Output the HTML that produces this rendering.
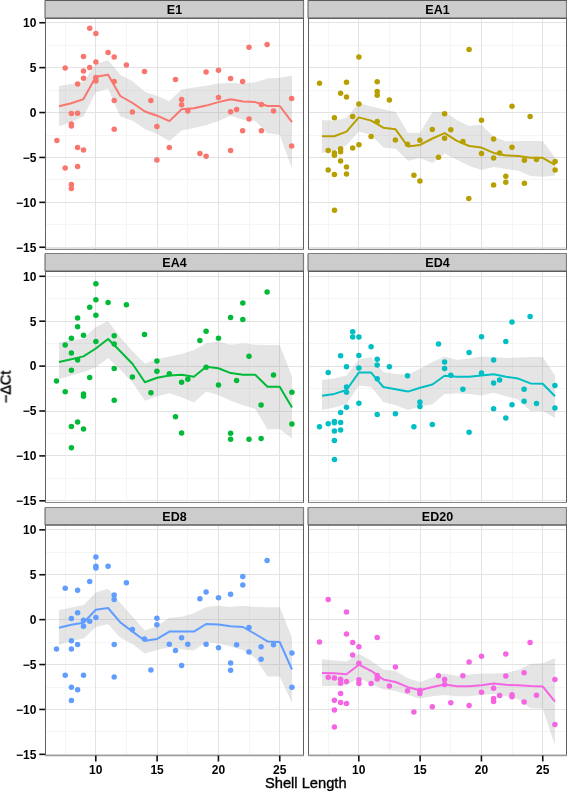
<!DOCTYPE html><html><head><meta charset="utf-8"><style>html,body{margin:0;padding:0;background:#fff;}svg{display:block} text{will-change:transform}</style></head><body>
<svg width="567" height="792" viewBox="0 0 567 792">
<rect width="567" height="792" fill="#fff"/>
<clipPath id="c00"><rect x="45.5" y="18.2" width="258" height="231.10"/></clipPath>
<g><line x1="65.50" y1="18.2" x2="65.50" y2="249.3" stroke="#f5f5f5" stroke-width="1"/><line x1="126.50" y1="18.2" x2="126.50" y2="249.3" stroke="#f5f5f5" stroke-width="1"/><line x1="187.50" y1="18.2" x2="187.50" y2="249.3" stroke="#f5f5f5" stroke-width="1"/><line x1="249.50" y1="18.2" x2="249.50" y2="249.3" stroke="#f5f5f5" stroke-width="1"/><line x1="45.5" y1="224.50" x2="303.5" y2="224.50" stroke="#f5f5f5" stroke-width="1"/><line x1="45.5" y1="179.50" x2="303.5" y2="179.50" stroke="#f5f5f5" stroke-width="1"/><line x1="45.5" y1="135.50" x2="303.5" y2="135.50" stroke="#f5f5f5" stroke-width="1"/><line x1="45.5" y1="90.50" x2="303.5" y2="90.50" stroke="#f5f5f5" stroke-width="1"/><line x1="45.5" y1="45.50" x2="303.5" y2="45.50" stroke="#f5f5f5" stroke-width="1"/><line x1="95.50" y1="18.2" x2="95.50" y2="249.3" stroke="#e3e3e3" stroke-width="1"/><line x1="157.50" y1="18.2" x2="157.50" y2="249.3" stroke="#e3e3e3" stroke-width="1"/><line x1="218.50" y1="18.2" x2="218.50" y2="249.3" stroke="#e3e3e3" stroke-width="1"/><line x1="279.50" y1="18.2" x2="279.50" y2="249.3" stroke="#e3e3e3" stroke-width="1"/><line x1="45.5" y1="247.50" x2="303.5" y2="247.50" stroke="#e3e3e3" stroke-width="1"/><line x1="45.5" y1="202.50" x2="303.5" y2="202.50" stroke="#e3e3e3" stroke-width="1"/><line x1="45.5" y1="157.50" x2="303.5" y2="157.50" stroke="#e3e3e3" stroke-width="1"/><line x1="45.5" y1="112.50" x2="303.5" y2="112.50" stroke="#e3e3e3" stroke-width="1"/><line x1="45.5" y1="67.50" x2="303.5" y2="67.50" stroke="#e3e3e3" stroke-width="1"/><line x1="45.5" y1="22.50" x2="303.5" y2="22.50" stroke="#e3e3e3" stroke-width="1"/></g>
<g clip-path="url(#c00)">
<polygon points="59.0,86.0 71.3,84.0 83.5,81.7 95.8,64.1 108.1,60.2 120.3,74.8 132.6,81.2 144.9,91.7 157.1,96.0 169.4,100.9 181.6,89.5 193.9,87.5 206.2,85.8 218.4,83.6 230.7,83.1 243.0,83.6 255.2,82.3 267.5,78.5 279.7,77.7 292.0,75.8 292.0,168.6 279.7,134.7 267.5,133.3 255.2,121.1 243.0,119.8 230.7,115.7 218.4,121.1 206.2,125.2 193.9,127.9 181.6,130.5 169.4,141.0 157.1,134.1 144.9,129.1 132.6,120.7 120.3,116.4 108.1,88.8 95.8,92.3 83.5,116.3 71.3,122.0 59.0,126.2" fill="#999999" fill-opacity="0.25"/>
<circle cx="89.7" cy="28.3" r="2.75" fill="#F8766D"/>
<circle cx="95.9" cy="33.4" r="2.75" fill="#F8766D"/>
<circle cx="108.1" cy="52.4" r="2.75" fill="#F8766D"/>
<circle cx="114.2" cy="57.0" r="2.75" fill="#F8766D"/>
<circle cx="83.5" cy="56.5" r="2.75" fill="#F8766D"/>
<circle cx="95.9" cy="62.0" r="2.75" fill="#F8766D"/>
<circle cx="65.2" cy="68.0" r="2.75" fill="#F8766D"/>
<circle cx="89.7" cy="67.5" r="2.75" fill="#F8766D"/>
<circle cx="83.5" cy="71.0" r="2.75" fill="#F8766D"/>
<circle cx="126.4" cy="65.0" r="2.75" fill="#F8766D"/>
<circle cx="144.5" cy="71.4" r="2.75" fill="#F8766D"/>
<circle cx="83.5" cy="78.3" r="2.75" fill="#F8766D"/>
<circle cx="95.9" cy="77.6" r="2.75" fill="#F8766D"/>
<circle cx="95.9" cy="81.1" r="2.75" fill="#F8766D"/>
<circle cx="114.2" cy="81.5" r="2.75" fill="#F8766D"/>
<circle cx="77.6" cy="84.0" r="2.75" fill="#F8766D"/>
<circle cx="175.5" cy="79.6" r="2.75" fill="#F8766D"/>
<circle cx="114.2" cy="100.5" r="2.75" fill="#F8766D"/>
<circle cx="150.9" cy="100.5" r="2.75" fill="#F8766D"/>
<circle cx="71.4" cy="113.6" r="2.75" fill="#F8766D"/>
<circle cx="77.6" cy="113.2" r="2.75" fill="#F8766D"/>
<circle cx="132.4" cy="112.0" r="2.75" fill="#F8766D"/>
<circle cx="71.4" cy="124.0" r="2.75" fill="#F8766D"/>
<circle cx="71.4" cy="126.0" r="2.75" fill="#F8766D"/>
<circle cx="156.9" cy="126.4" r="2.75" fill="#F8766D"/>
<circle cx="114.2" cy="129.2" r="2.75" fill="#F8766D"/>
<circle cx="249.0" cy="47.3" r="2.75" fill="#F8766D"/>
<circle cx="267.1" cy="44.6" r="2.75" fill="#F8766D"/>
<circle cx="206.1" cy="71.9" r="2.75" fill="#F8766D"/>
<circle cx="218.5" cy="70.3" r="2.75" fill="#F8766D"/>
<circle cx="230.6" cy="78.5" r="2.75" fill="#F8766D"/>
<circle cx="242.6" cy="81.5" r="2.75" fill="#F8766D"/>
<circle cx="181.6" cy="99.4" r="2.75" fill="#F8766D"/>
<circle cx="181.6" cy="104.7" r="2.75" fill="#F8766D"/>
<circle cx="187.8" cy="110.9" r="2.75" fill="#F8766D"/>
<circle cx="218.5" cy="97.6" r="2.75" fill="#F8766D"/>
<circle cx="230.6" cy="111.8" r="2.75" fill="#F8766D"/>
<circle cx="236.6" cy="109.5" r="2.75" fill="#F8766D"/>
<circle cx="249.0" cy="118.9" r="2.75" fill="#F8766D"/>
<circle cx="261.4" cy="104.4" r="2.75" fill="#F8766D"/>
<circle cx="273.5" cy="110.9" r="2.75" fill="#F8766D"/>
<circle cx="291.6" cy="98.5" r="2.75" fill="#F8766D"/>
<circle cx="242.6" cy="130.8" r="2.75" fill="#F8766D"/>
<circle cx="261.4" cy="130.8" r="2.75" fill="#F8766D"/>
<circle cx="56.9" cy="140.5" r="2.75" fill="#F8766D"/>
<circle cx="77.6" cy="147.4" r="2.75" fill="#F8766D"/>
<circle cx="83.5" cy="150.1" r="2.75" fill="#F8766D"/>
<circle cx="169.3" cy="147.4" r="2.75" fill="#F8766D"/>
<circle cx="156.9" cy="160.0" r="2.75" fill="#F8766D"/>
<circle cx="65.2" cy="168.0" r="2.75" fill="#F8766D"/>
<circle cx="77.6" cy="166.4" r="2.75" fill="#F8766D"/>
<circle cx="71.4" cy="184.5" r="2.75" fill="#F8766D"/>
<circle cx="71.4" cy="188.6" r="2.75" fill="#F8766D"/>
<circle cx="291.6" cy="146.0" r="2.75" fill="#F8766D"/>
<circle cx="199.9" cy="153.6" r="2.75" fill="#F8766D"/>
<circle cx="206.1" cy="156.3" r="2.75" fill="#F8766D"/>
<circle cx="230.6" cy="150.6" r="2.75" fill="#F8766D"/>
<polyline points="59.0,106.2 71.3,103.3 83.5,99.1 95.8,76.8 108.1,74.7 120.3,96.0 132.6,103.0 144.9,111.5 157.1,115.7 169.4,121.1 181.6,109.3 193.9,108.3 206.2,105.6 218.4,102.1 230.7,99.2 243.0,101.6 255.2,102.1 267.5,106.0 279.7,106.0 292.0,122.1" fill="none" stroke="#F8766D" stroke-width="2" stroke-linejoin="round"/>
</g>
<rect x="44.5" y="0.5" width="259" height="17.70" fill="#cccccc"/>
<path d="M45.5,18.2V249.3 M303.5,18.2V249.3" stroke="#606060" stroke-width="1" fill="none"/>
<path d="M45.1,0.5V18.2 M303.5,0.5V18.2" stroke="#7a7a7a" stroke-width="1.2" fill="none"/>
<path d="M45.0,0.5H304.0" stroke="#5a5a5a" stroke-width="1" fill="none"/>
<path d="M45.0,18.2H304.0" stroke="#5e5e5e" stroke-width="1.4" fill="none"/>
<path d="M45.0,249.3H304.0" stroke="#8a8a8a" stroke-width="1.2" fill="none"/>
<text x="174.50" y="13.90" font-family="Liberation Sans" font-weight="bold" font-size="12.5" text-anchor="middle" fill="#000">E1</text>
<line x1="39.3" y1="247.25" x2="45" y2="247.25" stroke="#111" stroke-width="1.6"/>
<text x="36.4" y="251.55" font-family="Liberation Sans" font-weight="bold" font-size="12" text-anchor="end" fill="#000">−15</text>
<line x1="39.3" y1="202.35" x2="45" y2="202.35" stroke="#111" stroke-width="1.6"/>
<text x="36.4" y="206.65" font-family="Liberation Sans" font-weight="bold" font-size="12" text-anchor="end" fill="#000">−10</text>
<line x1="39.3" y1="157.45" x2="45" y2="157.45" stroke="#111" stroke-width="1.6"/>
<text x="36.4" y="161.75" font-family="Liberation Sans" font-weight="bold" font-size="12" text-anchor="end" fill="#000">−5</text>
<line x1="39.3" y1="112.55" x2="45" y2="112.55" stroke="#111" stroke-width="1.6"/>
<text x="36.4" y="116.85" font-family="Liberation Sans" font-weight="bold" font-size="12" text-anchor="end" fill="#000">0</text>
<line x1="39.3" y1="67.65" x2="45" y2="67.65" stroke="#111" stroke-width="1.6"/>
<text x="36.4" y="71.95" font-family="Liberation Sans" font-weight="bold" font-size="12" text-anchor="end" fill="#000">5</text>
<line x1="39.3" y1="22.75" x2="45" y2="22.75" stroke="#111" stroke-width="1.6"/>
<text x="36.4" y="27.05" font-family="Liberation Sans" font-weight="bold" font-size="12" text-anchor="end" fill="#000">10</text>
<clipPath id="c01"><rect x="308.5" y="18.2" width="258" height="231.10"/></clipPath>
<g><line x1="328.50" y1="18.2" x2="328.50" y2="249.3" stroke="#f5f5f5" stroke-width="1"/><line x1="389.50" y1="18.2" x2="389.50" y2="249.3" stroke="#f5f5f5" stroke-width="1"/><line x1="450.50" y1="18.2" x2="450.50" y2="249.3" stroke="#f5f5f5" stroke-width="1"/><line x1="512.50" y1="18.2" x2="512.50" y2="249.3" stroke="#f5f5f5" stroke-width="1"/><line x1="308.5" y1="224.50" x2="566.5" y2="224.50" stroke="#f5f5f5" stroke-width="1"/><line x1="308.5" y1="179.50" x2="566.5" y2="179.50" stroke="#f5f5f5" stroke-width="1"/><line x1="308.5" y1="135.50" x2="566.5" y2="135.50" stroke="#f5f5f5" stroke-width="1"/><line x1="308.5" y1="90.50" x2="566.5" y2="90.50" stroke="#f5f5f5" stroke-width="1"/><line x1="308.5" y1="45.50" x2="566.5" y2="45.50" stroke="#f5f5f5" stroke-width="1"/><line x1="358.50" y1="18.2" x2="358.50" y2="249.3" stroke="#e3e3e3" stroke-width="1"/><line x1="420.50" y1="18.2" x2="420.50" y2="249.3" stroke="#e3e3e3" stroke-width="1"/><line x1="481.50" y1="18.2" x2="481.50" y2="249.3" stroke="#e3e3e3" stroke-width="1"/><line x1="542.50" y1="18.2" x2="542.50" y2="249.3" stroke="#e3e3e3" stroke-width="1"/><line x1="308.5" y1="247.50" x2="566.5" y2="247.50" stroke="#e3e3e3" stroke-width="1"/><line x1="308.5" y1="202.50" x2="566.5" y2="202.50" stroke="#e3e3e3" stroke-width="1"/><line x1="308.5" y1="157.50" x2="566.5" y2="157.50" stroke="#e3e3e3" stroke-width="1"/><line x1="308.5" y1="112.50" x2="566.5" y2="112.50" stroke="#e3e3e3" stroke-width="1"/><line x1="308.5" y1="67.50" x2="566.5" y2="67.50" stroke="#e3e3e3" stroke-width="1"/><line x1="308.5" y1="22.50" x2="566.5" y2="22.50" stroke="#e3e3e3" stroke-width="1"/></g>
<g clip-path="url(#c01)">
<polygon points="322.0,120.1 334.3,120.8 346.5,117.8 358.8,102.9 371.1,106.4 383.3,109.3 395.6,112.1 407.9,132.7 420.1,132.7 432.4,112.1 444.6,112.1 456.9,120.1 469.2,125.9 481.4,124.7 493.7,136.9 506.0,141.3 518.2,141.0 530.5,141.0 542.7,141.0 555.0,157.5 555.0,175.5 542.7,176.7 530.5,176.1 518.2,170.8 506.0,169.0 493.7,167.1 481.4,170.1 469.2,166.0 456.9,159.8 444.6,153.4 432.4,163.0 420.1,158.0 407.9,160.7 395.6,148.8 383.3,147.6 371.1,135.0 358.8,131.6 346.5,145.3 334.3,151.1 322.0,152.9" fill="#999999" fill-opacity="0.25"/>
<circle cx="358.9" cy="57.0" r="2.75" fill="#B79F00"/>
<circle cx="319.5" cy="83.3" r="2.75" fill="#B79F00"/>
<circle cx="346.5" cy="82.2" r="2.75" fill="#B79F00"/>
<circle cx="377.2" cy="81.7" r="2.75" fill="#B79F00"/>
<circle cx="340.6" cy="93.2" r="2.75" fill="#B79F00"/>
<circle cx="346.5" cy="97.1" r="2.75" fill="#B79F00"/>
<circle cx="377.2" cy="91.4" r="2.75" fill="#B79F00"/>
<circle cx="377.2" cy="95.3" r="2.75" fill="#B79F00"/>
<circle cx="389.4" cy="100.1" r="2.75" fill="#B79F00"/>
<circle cx="358.9" cy="104.0" r="2.75" fill="#B79F00"/>
<circle cx="334.4" cy="117.7" r="2.75" fill="#B79F00"/>
<circle cx="352.7" cy="116.6" r="2.75" fill="#B79F00"/>
<circle cx="377.2" cy="121.6" r="2.75" fill="#B79F00"/>
<circle cx="432.3" cy="129.4" r="2.75" fill="#B79F00"/>
<circle cx="371.1" cy="136.6" r="2.75" fill="#B79F00"/>
<circle cx="395.4" cy="140.1" r="2.75" fill="#B79F00"/>
<circle cx="407.5" cy="144.2" r="2.75" fill="#B79F00"/>
<circle cx="419.9" cy="140.3" r="2.75" fill="#B79F00"/>
<circle cx="328.2" cy="150.4" r="2.75" fill="#B79F00"/>
<circle cx="334.4" cy="152.9" r="2.75" fill="#B79F00"/>
<circle cx="334.4" cy="155.2" r="2.75" fill="#B79F00"/>
<circle cx="340.6" cy="148.8" r="2.75" fill="#B79F00"/>
<circle cx="340.6" cy="151.8" r="2.75" fill="#B79F00"/>
<circle cx="352.7" cy="147.9" r="2.75" fill="#B79F00"/>
<circle cx="358.9" cy="144.7" r="2.75" fill="#B79F00"/>
<circle cx="340.6" cy="160.9" r="2.75" fill="#B79F00"/>
<circle cx="346.5" cy="167.1" r="2.75" fill="#B79F00"/>
<circle cx="328.2" cy="170.1" r="2.75" fill="#B79F00"/>
<circle cx="334.4" cy="174.5" r="2.75" fill="#B79F00"/>
<circle cx="346.5" cy="174.0" r="2.75" fill="#B79F00"/>
<circle cx="413.9" cy="175.2" r="2.75" fill="#B79F00"/>
<circle cx="419.9" cy="180.9" r="2.75" fill="#B79F00"/>
<circle cx="438.5" cy="157.3" r="2.75" fill="#B79F00"/>
<circle cx="469.1" cy="49.6" r="2.75" fill="#B79F00"/>
<circle cx="512.0" cy="106.3" r="2.75" fill="#B79F00"/>
<circle cx="530.1" cy="116.6" r="2.75" fill="#B79F00"/>
<circle cx="444.6" cy="113.8" r="2.75" fill="#B79F00"/>
<circle cx="450.8" cy="129.7" r="2.75" fill="#B79F00"/>
<circle cx="481.5" cy="120.3" r="2.75" fill="#B79F00"/>
<circle cx="444.6" cy="138.2" r="2.75" fill="#B79F00"/>
<circle cx="462.9" cy="141.4" r="2.75" fill="#B79F00"/>
<circle cx="493.6" cy="138.9" r="2.75" fill="#B79F00"/>
<circle cx="512.0" cy="147.2" r="2.75" fill="#B79F00"/>
<circle cx="481.5" cy="153.4" r="2.75" fill="#B79F00"/>
<circle cx="493.6" cy="158.0" r="2.75" fill="#B79F00"/>
<circle cx="499.6" cy="152.9" r="2.75" fill="#B79F00"/>
<circle cx="524.4" cy="160.2" r="2.75" fill="#B79F00"/>
<circle cx="536.5" cy="159.6" r="2.75" fill="#B79F00"/>
<circle cx="555.1" cy="161.4" r="2.75" fill="#B79F00"/>
<circle cx="555.1" cy="169.9" r="2.75" fill="#B79F00"/>
<circle cx="505.8" cy="176.3" r="2.75" fill="#B79F00"/>
<circle cx="505.8" cy="182.3" r="2.75" fill="#B79F00"/>
<circle cx="493.6" cy="185.0" r="2.75" fill="#B79F00"/>
<circle cx="524.4" cy="183.2" r="2.75" fill="#B79F00"/>
<circle cx="334.5" cy="210.3" r="2.75" fill="#B79F00"/>
<circle cx="468.8" cy="198.5" r="2.75" fill="#B79F00"/>
<polyline points="322.0,136.2 334.3,136.2 346.5,131.6 358.8,117.4 371.1,120.6 383.3,127.7 395.6,129.3 407.9,146.5 420.1,144.9 432.4,138.5 444.6,133.2 456.9,140.8 469.2,146.0 481.4,147.6 493.7,152.9 506.0,155.4 518.2,156.0 530.5,157.8 542.7,157.8 555.0,164.9" fill="none" stroke="#B79F00" stroke-width="2" stroke-linejoin="round"/>
</g>
<rect x="307.5" y="0.5" width="259" height="17.70" fill="#cccccc"/>
<path d="M308.5,18.2V249.3 M566.5,18.2V249.3" stroke="#606060" stroke-width="1" fill="none"/>
<path d="M308.1,0.5V18.2 M566.5,0.5V18.2" stroke="#7a7a7a" stroke-width="1.2" fill="none"/>
<path d="M308.0,0.5H567.0" stroke="#5a5a5a" stroke-width="1" fill="none"/>
<path d="M308.0,18.2H567.0" stroke="#5e5e5e" stroke-width="1.4" fill="none"/>
<path d="M308.0,249.3H567.0" stroke="#8a8a8a" stroke-width="1.2" fill="none"/>
<text x="437.50" y="13.90" font-family="Liberation Sans" font-weight="bold" font-size="12.5" text-anchor="middle" fill="#000">EA1</text>
<clipPath id="c10"><rect x="45.5" y="271.3" width="258" height="231.20"/></clipPath>
<g><line x1="65.50" y1="271.3" x2="65.50" y2="502.5" stroke="#f5f5f5" stroke-width="1"/><line x1="126.50" y1="271.3" x2="126.50" y2="502.5" stroke="#f5f5f5" stroke-width="1"/><line x1="187.50" y1="271.3" x2="187.50" y2="502.5" stroke="#f5f5f5" stroke-width="1"/><line x1="249.50" y1="271.3" x2="249.50" y2="502.5" stroke="#f5f5f5" stroke-width="1"/><line x1="45.5" y1="478.50" x2="303.5" y2="478.50" stroke="#f5f5f5" stroke-width="1"/><line x1="45.5" y1="433.50" x2="303.5" y2="433.50" stroke="#f5f5f5" stroke-width="1"/><line x1="45.5" y1="388.50" x2="303.5" y2="388.50" stroke="#f5f5f5" stroke-width="1"/><line x1="45.5" y1="343.50" x2="303.5" y2="343.50" stroke="#f5f5f5" stroke-width="1"/><line x1="45.5" y1="298.50" x2="303.5" y2="298.50" stroke="#f5f5f5" stroke-width="1"/><line x1="95.50" y1="271.3" x2="95.50" y2="502.5" stroke="#e3e3e3" stroke-width="1"/><line x1="157.50" y1="271.3" x2="157.50" y2="502.5" stroke="#e3e3e3" stroke-width="1"/><line x1="218.50" y1="271.3" x2="218.50" y2="502.5" stroke="#e3e3e3" stroke-width="1"/><line x1="279.50" y1="271.3" x2="279.50" y2="502.5" stroke="#e3e3e3" stroke-width="1"/><line x1="45.5" y1="500.50" x2="303.5" y2="500.50" stroke="#e3e3e3" stroke-width="1"/><line x1="45.5" y1="455.50" x2="303.5" y2="455.50" stroke="#e3e3e3" stroke-width="1"/><line x1="45.5" y1="411.50" x2="303.5" y2="411.50" stroke="#e3e3e3" stroke-width="1"/><line x1="45.5" y1="366.50" x2="303.5" y2="366.50" stroke="#e3e3e3" stroke-width="1"/><line x1="45.5" y1="321.50" x2="303.5" y2="321.50" stroke="#e3e3e3" stroke-width="1"/><line x1="45.5" y1="276.50" x2="303.5" y2="276.50" stroke="#e3e3e3" stroke-width="1"/></g>
<g clip-path="url(#c10)">
<polygon points="59.0,342.5 71.3,340.2 83.5,338.6 95.8,327.2 108.1,321.0 120.3,337.5 132.6,351.2 144.9,363.4 157.1,359.3 169.4,356.5 181.6,354.0 193.9,350.1 206.2,343.2 218.4,341.6 230.7,344.8 243.0,343.2 255.2,344.8 267.5,345.0 279.7,345.0 292.0,376.5 292.0,438.6 279.7,429.0 267.5,429.4 255.2,408.8 243.0,405.3 230.7,400.8 218.4,395.0 206.2,391.6 193.9,402.4 181.6,397.3 169.4,393.3 157.1,396.2 144.9,400.8 132.6,382.4 120.3,369.8 108.1,357.9 95.8,367.5 83.5,372.1 71.3,375.5 59.0,379.0" fill="#999999" fill-opacity="0.25"/>
<circle cx="95.9" cy="283.8" r="2.75" fill="#00BA38"/>
<circle cx="95.9" cy="299.7" r="2.75" fill="#00BA38"/>
<circle cx="89.7" cy="307.2" r="2.75" fill="#00BA38"/>
<circle cx="108.1" cy="302.4" r="2.75" fill="#00BA38"/>
<circle cx="126.4" cy="304.7" r="2.75" fill="#00BA38"/>
<circle cx="77.6" cy="318.0" r="2.75" fill="#00BA38"/>
<circle cx="95.9" cy="315.3" r="2.75" fill="#00BA38"/>
<circle cx="77.6" cy="326.7" r="2.75" fill="#00BA38"/>
<circle cx="83.5" cy="335.2" r="2.75" fill="#00BA38"/>
<circle cx="71.4" cy="338.2" r="2.75" fill="#00BA38"/>
<circle cx="65.2" cy="345.1" r="2.75" fill="#00BA38"/>
<circle cx="95.9" cy="341.6" r="2.75" fill="#00BA38"/>
<circle cx="114.2" cy="335.7" r="2.75" fill="#00BA38"/>
<circle cx="114.2" cy="343.9" r="2.75" fill="#00BA38"/>
<circle cx="144.5" cy="334.5" r="2.75" fill="#00BA38"/>
<circle cx="71.4" cy="352.9" r="2.75" fill="#00BA38"/>
<circle cx="77.6" cy="360.0" r="2.75" fill="#00BA38"/>
<circle cx="156.9" cy="360.9" r="2.75" fill="#00BA38"/>
<circle cx="71.4" cy="370.3" r="2.75" fill="#00BA38"/>
<circle cx="114.2" cy="368.4" r="2.75" fill="#00BA38"/>
<circle cx="156.9" cy="371.2" r="2.75" fill="#00BA38"/>
<circle cx="169.3" cy="373.7" r="2.75" fill="#00BA38"/>
<circle cx="89.7" cy="377.6" r="2.75" fill="#00BA38"/>
<circle cx="132.4" cy="376.9" r="2.75" fill="#00BA38"/>
<circle cx="56.5" cy="381.1" r="2.75" fill="#00BA38"/>
<circle cx="65.2" cy="391.8" r="2.75" fill="#00BA38"/>
<circle cx="83.5" cy="393.9" r="2.75" fill="#00BA38"/>
<circle cx="83.5" cy="396.2" r="2.75" fill="#00BA38"/>
<circle cx="114.2" cy="400.3" r="2.75" fill="#00BA38"/>
<circle cx="150.9" cy="392.7" r="2.75" fill="#00BA38"/>
<circle cx="77.6" cy="422.1" r="2.75" fill="#00BA38"/>
<circle cx="71.4" cy="426.4" r="2.75" fill="#00BA38"/>
<circle cx="83.5" cy="429.0" r="2.75" fill="#00BA38"/>
<circle cx="71.4" cy="447.8" r="2.75" fill="#00BA38"/>
<circle cx="175.5" cy="416.8" r="2.75" fill="#00BA38"/>
<circle cx="267.1" cy="292.1" r="2.75" fill="#00BA38"/>
<circle cx="242.8" cy="303.1" r="2.75" fill="#00BA38"/>
<circle cx="230.6" cy="317.5" r="2.75" fill="#00BA38"/>
<circle cx="242.8" cy="319.4" r="2.75" fill="#00BA38"/>
<circle cx="206.1" cy="331.3" r="2.75" fill="#00BA38"/>
<circle cx="199.9" cy="340.5" r="2.75" fill="#00BA38"/>
<circle cx="218.5" cy="338.2" r="2.75" fill="#00BA38"/>
<circle cx="249.0" cy="356.3" r="2.75" fill="#00BA38"/>
<circle cx="206.1" cy="367.3" r="2.75" fill="#00BA38"/>
<circle cx="273.5" cy="374.9" r="2.75" fill="#00BA38"/>
<circle cx="181.6" cy="382.2" r="2.75" fill="#00BA38"/>
<circle cx="187.8" cy="379.2" r="2.75" fill="#00BA38"/>
<circle cx="236.6" cy="380.4" r="2.75" fill="#00BA38"/>
<circle cx="218.5" cy="385.0" r="2.75" fill="#00BA38"/>
<circle cx="291.9" cy="392.3" r="2.75" fill="#00BA38"/>
<circle cx="261.1" cy="404.9" r="2.75" fill="#00BA38"/>
<circle cx="291.9" cy="423.9" r="2.75" fill="#00BA38"/>
<circle cx="181.6" cy="432.9" r="2.75" fill="#00BA38"/>
<circle cx="230.6" cy="433.3" r="2.75" fill="#00BA38"/>
<circle cx="230.6" cy="439.3" r="2.75" fill="#00BA38"/>
<circle cx="249.0" cy="439.3" r="2.75" fill="#00BA38"/>
<circle cx="261.1" cy="438.6" r="2.75" fill="#00BA38"/>
<polyline points="59.0,362.0 71.3,359.3 83.5,356.4 95.8,348.5 108.1,339.0 120.3,351.3 132.6,364.0 144.9,382.3 157.1,377.7 169.4,375.4 181.6,374.8 193.9,376.8 206.2,366.8 218.4,368.2 230.7,373.1 243.0,374.7 255.2,374.7 267.5,386.8 279.7,386.8 292.0,407.6" fill="none" stroke="#00BA38" stroke-width="2" stroke-linejoin="round"/>
</g>
<rect x="44.5" y="253.5" width="259" height="17.80" fill="#cccccc"/>
<path d="M45.5,271.3V502.5 M303.5,271.3V502.5" stroke="#606060" stroke-width="1" fill="none"/>
<path d="M45.1,253.5V271.3 M303.5,253.5V271.3" stroke="#7a7a7a" stroke-width="1.2" fill="none"/>
<path d="M45.0,253.5H304.0" stroke="#808080" stroke-width="1" fill="none"/>
<path d="M45.0,271.3H304.0" stroke="#5e5e5e" stroke-width="1.4" fill="none"/>
<path d="M45.0,502.5H304.0" stroke="#858585" stroke-width="1.2" fill="none"/>
<text x="174.50" y="266.90" font-family="Liberation Sans" font-weight="bold" font-size="12.5" text-anchor="middle" fill="#000">EA4</text>
<line x1="39.3" y1="500.80" x2="45" y2="500.80" stroke="#111" stroke-width="1.6"/>
<text x="36.4" y="505.10" font-family="Liberation Sans" font-weight="bold" font-size="12" text-anchor="end" fill="#000">−15</text>
<line x1="39.3" y1="455.90" x2="45" y2="455.90" stroke="#111" stroke-width="1.6"/>
<text x="36.4" y="460.20" font-family="Liberation Sans" font-weight="bold" font-size="12" text-anchor="end" fill="#000">−10</text>
<line x1="39.3" y1="411.00" x2="45" y2="411.00" stroke="#111" stroke-width="1.6"/>
<text x="36.4" y="415.30" font-family="Liberation Sans" font-weight="bold" font-size="12" text-anchor="end" fill="#000">−5</text>
<line x1="39.3" y1="366.10" x2="45" y2="366.10" stroke="#111" stroke-width="1.6"/>
<text x="36.4" y="370.40" font-family="Liberation Sans" font-weight="bold" font-size="12" text-anchor="end" fill="#000">0</text>
<line x1="39.3" y1="321.20" x2="45" y2="321.20" stroke="#111" stroke-width="1.6"/>
<text x="36.4" y="325.50" font-family="Liberation Sans" font-weight="bold" font-size="12" text-anchor="end" fill="#000">5</text>
<line x1="39.3" y1="276.30" x2="45" y2="276.30" stroke="#111" stroke-width="1.6"/>
<text x="36.4" y="280.60" font-family="Liberation Sans" font-weight="bold" font-size="12" text-anchor="end" fill="#000">10</text>
<clipPath id="c11"><rect x="308.5" y="271.3" width="258" height="231.20"/></clipPath>
<g><line x1="328.50" y1="271.3" x2="328.50" y2="502.5" stroke="#f5f5f5" stroke-width="1"/><line x1="389.50" y1="271.3" x2="389.50" y2="502.5" stroke="#f5f5f5" stroke-width="1"/><line x1="450.50" y1="271.3" x2="450.50" y2="502.5" stroke="#f5f5f5" stroke-width="1"/><line x1="512.50" y1="271.3" x2="512.50" y2="502.5" stroke="#f5f5f5" stroke-width="1"/><line x1="308.5" y1="478.50" x2="566.5" y2="478.50" stroke="#f5f5f5" stroke-width="1"/><line x1="308.5" y1="433.50" x2="566.5" y2="433.50" stroke="#f5f5f5" stroke-width="1"/><line x1="308.5" y1="388.50" x2="566.5" y2="388.50" stroke="#f5f5f5" stroke-width="1"/><line x1="308.5" y1="343.50" x2="566.5" y2="343.50" stroke="#f5f5f5" stroke-width="1"/><line x1="308.5" y1="298.50" x2="566.5" y2="298.50" stroke="#f5f5f5" stroke-width="1"/><line x1="358.50" y1="271.3" x2="358.50" y2="502.5" stroke="#e3e3e3" stroke-width="1"/><line x1="420.50" y1="271.3" x2="420.50" y2="502.5" stroke="#e3e3e3" stroke-width="1"/><line x1="481.50" y1="271.3" x2="481.50" y2="502.5" stroke="#e3e3e3" stroke-width="1"/><line x1="542.50" y1="271.3" x2="542.50" y2="502.5" stroke="#e3e3e3" stroke-width="1"/><line x1="308.5" y1="500.50" x2="566.5" y2="500.50" stroke="#e3e3e3" stroke-width="1"/><line x1="308.5" y1="455.50" x2="566.5" y2="455.50" stroke="#e3e3e3" stroke-width="1"/><line x1="308.5" y1="411.50" x2="566.5" y2="411.50" stroke="#e3e3e3" stroke-width="1"/><line x1="308.5" y1="366.50" x2="566.5" y2="366.50" stroke="#e3e3e3" stroke-width="1"/><line x1="308.5" y1="321.50" x2="566.5" y2="321.50" stroke="#e3e3e3" stroke-width="1"/><line x1="308.5" y1="276.50" x2="566.5" y2="276.50" stroke="#e3e3e3" stroke-width="1"/></g>
<g clip-path="url(#c11)">
<polygon points="322.0,380.1 334.3,378.5 346.5,375.5 358.8,359.5 371.1,357.2 383.3,372.1 395.6,373.9 407.9,374.4 420.1,368.7 432.4,362.0 444.6,356.4 456.9,360.0 469.2,358.6 481.4,356.4 493.7,357.1 506.0,358.0 518.2,357.5 530.5,357.1 542.7,357.1 555.0,375.5 555.0,418.0 542.7,411.1 530.5,411.1 518.2,399.6 506.0,396.2 493.7,392.7 481.4,395.5 469.2,393.9 456.9,393.2 444.6,393.9 432.4,404.2 420.1,406.5 407.9,409.9 395.6,405.3 383.3,401.9 371.1,387.0 358.8,385.4 346.5,404.2 334.3,407.6 322.0,409.9" fill="#999999" fill-opacity="0.25"/>
<circle cx="352.7" cy="331.8" r="2.75" fill="#00BFC4"/>
<circle cx="352.7" cy="337.0" r="2.75" fill="#00BFC4"/>
<circle cx="358.9" cy="337.0" r="2.75" fill="#00BFC4"/>
<circle cx="371.1" cy="346.7" r="2.75" fill="#00BFC4"/>
<circle cx="340.6" cy="355.8" r="2.75" fill="#00BFC4"/>
<circle cx="358.9" cy="355.4" r="2.75" fill="#00BFC4"/>
<circle cx="377.2" cy="359.3" r="2.75" fill="#00BFC4"/>
<circle cx="377.2" cy="365.0" r="2.75" fill="#00BFC4"/>
<circle cx="346.5" cy="366.8" r="2.75" fill="#00BFC4"/>
<circle cx="358.9" cy="368.0" r="2.75" fill="#00BFC4"/>
<circle cx="389.4" cy="366.8" r="2.75" fill="#00BFC4"/>
<circle cx="328.2" cy="372.6" r="2.75" fill="#00BFC4"/>
<circle cx="407.5" cy="375.8" r="2.75" fill="#00BFC4"/>
<circle cx="377.2" cy="378.8" r="2.75" fill="#00BFC4"/>
<circle cx="438.5" cy="343.9" r="2.75" fill="#00BFC4"/>
<circle cx="346.5" cy="387.0" r="2.75" fill="#00BFC4"/>
<circle cx="346.5" cy="392.3" r="2.75" fill="#00BFC4"/>
<circle cx="358.9" cy="403.3" r="2.75" fill="#00BFC4"/>
<circle cx="346.5" cy="407.2" r="2.75" fill="#00BFC4"/>
<circle cx="340.6" cy="412.5" r="2.75" fill="#00BFC4"/>
<circle cx="377.2" cy="414.5" r="2.75" fill="#00BFC4"/>
<circle cx="395.4" cy="413.8" r="2.75" fill="#00BFC4"/>
<circle cx="419.9" cy="401.9" r="2.75" fill="#00BFC4"/>
<circle cx="419.9" cy="406.5" r="2.75" fill="#00BFC4"/>
<circle cx="334.4" cy="421.4" r="2.75" fill="#00BFC4"/>
<circle cx="334.4" cy="422.8" r="2.75" fill="#00BFC4"/>
<circle cx="328.2" cy="423.7" r="2.75" fill="#00BFC4"/>
<circle cx="340.6" cy="422.5" r="2.75" fill="#00BFC4"/>
<circle cx="319.5" cy="426.7" r="2.75" fill="#00BFC4"/>
<circle cx="334.4" cy="431.0" r="2.75" fill="#00BFC4"/>
<circle cx="340.6" cy="429.9" r="2.75" fill="#00BFC4"/>
<circle cx="334.4" cy="440.4" r="2.75" fill="#00BFC4"/>
<circle cx="413.9" cy="426.7" r="2.75" fill="#00BFC4"/>
<circle cx="432.3" cy="424.4" r="2.75" fill="#00BFC4"/>
<circle cx="334.5" cy="459.4" r="2.75" fill="#00BFC4"/>
<circle cx="530.1" cy="316.4" r="2.75" fill="#00BFC4"/>
<circle cx="512.0" cy="321.9" r="2.75" fill="#00BFC4"/>
<circle cx="481.5" cy="336.8" r="2.75" fill="#00BFC4"/>
<circle cx="505.8" cy="341.4" r="2.75" fill="#00BFC4"/>
<circle cx="469.1" cy="352.4" r="2.75" fill="#00BFC4"/>
<circle cx="493.6" cy="360.0" r="2.75" fill="#00BFC4"/>
<circle cx="444.6" cy="362.0" r="2.75" fill="#00BFC4"/>
<circle cx="444.6" cy="368.4" r="2.75" fill="#00BFC4"/>
<circle cx="450.8" cy="375.3" r="2.75" fill="#00BFC4"/>
<circle cx="481.5" cy="373.0" r="2.75" fill="#00BFC4"/>
<circle cx="493.6" cy="382.9" r="2.75" fill="#00BFC4"/>
<circle cx="499.6" cy="380.1" r="2.75" fill="#00BFC4"/>
<circle cx="554.9" cy="385.6" r="2.75" fill="#00BFC4"/>
<circle cx="462.9" cy="389.3" r="2.75" fill="#00BFC4"/>
<circle cx="524.1" cy="389.3" r="2.75" fill="#00BFC4"/>
<circle cx="524.1" cy="401.2" r="2.75" fill="#00BFC4"/>
<circle cx="536.5" cy="403.5" r="2.75" fill="#00BFC4"/>
<circle cx="512.0" cy="404.7" r="2.75" fill="#00BFC4"/>
<circle cx="493.6" cy="408.8" r="2.75" fill="#00BFC4"/>
<circle cx="554.9" cy="407.9" r="2.75" fill="#00BFC4"/>
<circle cx="505.8" cy="418.0" r="2.75" fill="#00BFC4"/>
<circle cx="469.1" cy="432.2" r="2.75" fill="#00BFC4"/>
<polyline points="322.0,395.7 334.3,393.9 346.5,390.0 358.8,372.6 371.1,372.6 383.3,387.0 395.6,389.3 407.9,391.6 420.1,387.7 432.4,384.5 444.6,375.7 456.9,376.8 469.2,376.8 481.4,375.6 493.7,374.3 506.0,376.8 518.2,378.6 530.5,383.4 542.7,383.7 555.0,396.2" fill="none" stroke="#00BFC4" stroke-width="2" stroke-linejoin="round"/>
</g>
<rect x="307.5" y="253.5" width="259" height="17.80" fill="#cccccc"/>
<path d="M308.5,271.3V502.5 M566.5,271.3V502.5" stroke="#606060" stroke-width="1" fill="none"/>
<path d="M308.1,253.5V271.3 M566.5,253.5V271.3" stroke="#7a7a7a" stroke-width="1.2" fill="none"/>
<path d="M308.0,253.5H567.0" stroke="#808080" stroke-width="1" fill="none"/>
<path d="M308.0,271.3H567.0" stroke="#5e5e5e" stroke-width="1.4" fill="none"/>
<path d="M308.0,502.5H567.0" stroke="#858585" stroke-width="1.2" fill="none"/>
<text x="437.50" y="266.90" font-family="Liberation Sans" font-weight="bold" font-size="12.5" text-anchor="middle" fill="#000">ED4</text>
<clipPath id="c20"><rect x="45.5" y="525.0" width="258" height="230.50"/></clipPath>
<g><line x1="65.50" y1="525.0" x2="65.50" y2="755.5" stroke="#f5f5f5" stroke-width="1"/><line x1="126.50" y1="525.0" x2="126.50" y2="755.5" stroke="#f5f5f5" stroke-width="1"/><line x1="187.50" y1="525.0" x2="187.50" y2="755.5" stroke="#f5f5f5" stroke-width="1"/><line x1="249.50" y1="525.0" x2="249.50" y2="755.5" stroke="#f5f5f5" stroke-width="1"/><line x1="45.5" y1="731.50" x2="303.5" y2="731.50" stroke="#f5f5f5" stroke-width="1"/><line x1="45.5" y1="687.50" x2="303.5" y2="687.50" stroke="#f5f5f5" stroke-width="1"/><line x1="45.5" y1="642.50" x2="303.5" y2="642.50" stroke="#f5f5f5" stroke-width="1"/><line x1="45.5" y1="597.50" x2="303.5" y2="597.50" stroke="#f5f5f5" stroke-width="1"/><line x1="45.5" y1="552.50" x2="303.5" y2="552.50" stroke="#f5f5f5" stroke-width="1"/><line x1="95.50" y1="525.0" x2="95.50" y2="755.5" stroke="#e3e3e3" stroke-width="1"/><line x1="157.50" y1="525.0" x2="157.50" y2="755.5" stroke="#e3e3e3" stroke-width="1"/><line x1="218.50" y1="525.0" x2="218.50" y2="755.5" stroke="#e3e3e3" stroke-width="1"/><line x1="279.50" y1="525.0" x2="279.50" y2="755.5" stroke="#e3e3e3" stroke-width="1"/><line x1="45.5" y1="754.50" x2="303.5" y2="754.50" stroke="#e3e3e3" stroke-width="1"/><line x1="45.5" y1="709.50" x2="303.5" y2="709.50" stroke="#e3e3e3" stroke-width="1"/><line x1="45.5" y1="664.50" x2="303.5" y2="664.50" stroke="#e3e3e3" stroke-width="1"/><line x1="45.5" y1="619.50" x2="303.5" y2="619.50" stroke="#e3e3e3" stroke-width="1"/><line x1="45.5" y1="574.50" x2="303.5" y2="574.50" stroke="#e3e3e3" stroke-width="1"/><line x1="45.5" y1="529.50" x2="303.5" y2="529.50" stroke="#e3e3e3" stroke-width="1"/></g>
<g clip-path="url(#c20)">
<polygon points="59.0,610.3 71.3,607.5 83.5,605.2 95.8,592.6 108.1,588.7 120.3,603.0 132.6,616.7 144.9,630.5 157.1,626.0 169.4,617.7 181.6,616.7 193.9,613.3 206.2,607.1 218.4,605.7 230.7,607.1 243.0,605.7 255.2,607.1 267.5,607.3 279.7,607.3 292.0,637.4 292.0,702.8 279.7,676.4 267.5,676.4 255.2,658.1 243.0,650.0 230.7,646.6 218.4,643.6 206.2,642.0 193.9,650.5 181.6,649.3 169.4,647.0 157.1,650.0 144.9,653.5 132.6,644.3 120.3,637.4 108.1,624.3 95.8,627.1 83.5,638.6 71.3,640.9 59.0,645.0" fill="#999999" fill-opacity="0.25"/>
<circle cx="95.9" cy="557.1" r="2.75" fill="#619CFF"/>
<circle cx="95.9" cy="566.3" r="2.75" fill="#619CFF"/>
<circle cx="95.9" cy="568.1" r="2.75" fill="#619CFF"/>
<circle cx="108.1" cy="566.3" r="2.75" fill="#619CFF"/>
<circle cx="89.7" cy="581.6" r="2.75" fill="#619CFF"/>
<circle cx="126.4" cy="582.8" r="2.75" fill="#619CFF"/>
<circle cx="65.2" cy="588.3" r="2.75" fill="#619CFF"/>
<circle cx="77.6" cy="590.3" r="2.75" fill="#619CFF"/>
<circle cx="114.2" cy="594.9" r="2.75" fill="#619CFF"/>
<circle cx="114.2" cy="599.5" r="2.75" fill="#619CFF"/>
<circle cx="77.6" cy="612.8" r="2.75" fill="#619CFF"/>
<circle cx="71.4" cy="618.5" r="2.75" fill="#619CFF"/>
<circle cx="83.5" cy="620.2" r="2.75" fill="#619CFF"/>
<circle cx="89.7" cy="621.3" r="2.75" fill="#619CFF"/>
<circle cx="95.9" cy="617.4" r="2.75" fill="#619CFF"/>
<circle cx="83.5" cy="626.3" r="2.75" fill="#619CFF"/>
<circle cx="132.4" cy="629.6" r="2.75" fill="#619CFF"/>
<circle cx="156.9" cy="618.3" r="2.75" fill="#619CFF"/>
<circle cx="156.9" cy="624.7" r="2.75" fill="#619CFF"/>
<circle cx="144.5" cy="639.0" r="2.75" fill="#619CFF"/>
<circle cx="71.4" cy="640.8" r="2.75" fill="#619CFF"/>
<circle cx="77.6" cy="644.5" r="2.75" fill="#619CFF"/>
<circle cx="56.5" cy="649.1" r="2.75" fill="#619CFF"/>
<circle cx="71.4" cy="649.1" r="2.75" fill="#619CFF"/>
<circle cx="114.2" cy="644.5" r="2.75" fill="#619CFF"/>
<circle cx="169.3" cy="644.3" r="2.75" fill="#619CFF"/>
<circle cx="175.5" cy="650.5" r="2.75" fill="#619CFF"/>
<circle cx="150.9" cy="670.0" r="2.75" fill="#619CFF"/>
<circle cx="65.2" cy="675.2" r="2.75" fill="#619CFF"/>
<circle cx="83.5" cy="675.2" r="2.75" fill="#619CFF"/>
<circle cx="114.2" cy="676.9" r="2.75" fill="#619CFF"/>
<circle cx="71.4" cy="687.2" r="2.75" fill="#619CFF"/>
<circle cx="77.6" cy="689.7" r="2.75" fill="#619CFF"/>
<circle cx="71.4" cy="700.5" r="2.75" fill="#619CFF"/>
<circle cx="267.1" cy="560.5" r="2.75" fill="#619CFF"/>
<circle cx="242.8" cy="576.6" r="2.75" fill="#619CFF"/>
<circle cx="242.8" cy="585.1" r="2.75" fill="#619CFF"/>
<circle cx="206.1" cy="592.0" r="2.75" fill="#619CFF"/>
<circle cx="199.9" cy="598.8" r="2.75" fill="#619CFF"/>
<circle cx="218.5" cy="597.7" r="2.75" fill="#619CFF"/>
<circle cx="230.6" cy="594.2" r="2.75" fill="#619CFF"/>
<circle cx="249.0" cy="627.5" r="2.75" fill="#619CFF"/>
<circle cx="181.6" cy="637.8" r="2.75" fill="#619CFF"/>
<circle cx="187.8" cy="644.3" r="2.75" fill="#619CFF"/>
<circle cx="206.1" cy="644.3" r="2.75" fill="#619CFF"/>
<circle cx="218.5" cy="647.7" r="2.75" fill="#619CFF"/>
<circle cx="236.6" cy="644.8" r="2.75" fill="#619CFF"/>
<circle cx="249.0" cy="651.9" r="2.75" fill="#619CFF"/>
<circle cx="261.1" cy="646.8" r="2.75" fill="#619CFF"/>
<circle cx="273.5" cy="644.8" r="2.75" fill="#619CFF"/>
<circle cx="291.9" cy="653.0" r="2.75" fill="#619CFF"/>
<circle cx="261.1" cy="659.2" r="2.75" fill="#619CFF"/>
<circle cx="181.6" cy="665.4" r="2.75" fill="#619CFF"/>
<circle cx="230.6" cy="663.1" r="2.75" fill="#619CFF"/>
<circle cx="230.6" cy="670.2" r="2.75" fill="#619CFF"/>
<circle cx="291.9" cy="687.2" r="2.75" fill="#619CFF"/>
<polyline points="59.0,627.7 71.3,624.7 83.5,622.7 95.8,609.8 108.1,608.0 120.3,622.4 132.6,631.6 144.9,640.8 157.1,638.9 169.4,631.6 181.6,631.6 193.9,631.6 206.2,624.0 218.4,624.5 230.7,626.3 243.0,627.0 255.2,634.0 267.5,641.4 279.7,642.0 292.0,669.5" fill="none" stroke="#619CFF" stroke-width="2" stroke-linejoin="round"/>
</g>
<rect x="44.5" y="507.5" width="259" height="17.50" fill="#cccccc"/>
<path d="M45.5,525.0V755.5 M303.5,525.0V755.5" stroke="#606060" stroke-width="1" fill="none"/>
<path d="M45.1,507.5V525.0 M303.5,507.5V525.0" stroke="#7a7a7a" stroke-width="1.2" fill="none"/>
<path d="M45.0,507.5H304.0" stroke="#808080" stroke-width="1" fill="none"/>
<path d="M45.0,525.0H304.0" stroke="#5e5e5e" stroke-width="1.4" fill="none"/>
<path d="M45.0,755.5H304.0" stroke="#9a9a9a" stroke-width="1.6" fill="none"/>
<text x="174.50" y="520.90" font-family="Liberation Sans" font-weight="bold" font-size="12.5" text-anchor="middle" fill="#000">ED8</text>
<line x1="39.3" y1="754.35" x2="45" y2="754.35" stroke="#111" stroke-width="1.6"/>
<text x="36.4" y="758.65" font-family="Liberation Sans" font-weight="bold" font-size="12" text-anchor="end" fill="#000">−15</text>
<line x1="39.3" y1="709.45" x2="45" y2="709.45" stroke="#111" stroke-width="1.6"/>
<text x="36.4" y="713.75" font-family="Liberation Sans" font-weight="bold" font-size="12" text-anchor="end" fill="#000">−10</text>
<line x1="39.3" y1="664.55" x2="45" y2="664.55" stroke="#111" stroke-width="1.6"/>
<text x="36.4" y="668.85" font-family="Liberation Sans" font-weight="bold" font-size="12" text-anchor="end" fill="#000">−5</text>
<line x1="39.3" y1="619.65" x2="45" y2="619.65" stroke="#111" stroke-width="1.6"/>
<text x="36.4" y="623.95" font-family="Liberation Sans" font-weight="bold" font-size="12" text-anchor="end" fill="#000">0</text>
<line x1="39.3" y1="574.75" x2="45" y2="574.75" stroke="#111" stroke-width="1.6"/>
<text x="36.4" y="579.05" font-family="Liberation Sans" font-weight="bold" font-size="12" text-anchor="end" fill="#000">5</text>
<line x1="39.3" y1="529.85" x2="45" y2="529.85" stroke="#111" stroke-width="1.6"/>
<text x="36.4" y="534.15" font-family="Liberation Sans" font-weight="bold" font-size="12" text-anchor="end" fill="#000">10</text>
<line x1="95.80" y1="755.5" x2="95.80" y2="761.50" stroke="#111" stroke-width="1.6"/>
<text x="95.80" y="773.6" font-family="Liberation Sans" font-weight="bold" font-size="12" text-anchor="middle" fill="#000">10</text>
<line x1="157.12" y1="755.5" x2="157.12" y2="761.50" stroke="#111" stroke-width="1.6"/>
<text x="157.12" y="773.6" font-family="Liberation Sans" font-weight="bold" font-size="12" text-anchor="middle" fill="#000">15</text>
<line x1="218.43" y1="755.5" x2="218.43" y2="761.50" stroke="#111" stroke-width="1.6"/>
<text x="218.43" y="773.6" font-family="Liberation Sans" font-weight="bold" font-size="12" text-anchor="middle" fill="#000">20</text>
<line x1="279.75" y1="755.5" x2="279.75" y2="761.50" stroke="#111" stroke-width="1.6"/>
<text x="279.75" y="773.6" font-family="Liberation Sans" font-weight="bold" font-size="12" text-anchor="middle" fill="#000">25</text>
<clipPath id="c21"><rect x="308.5" y="525.0" width="258" height="230.50"/></clipPath>
<g><line x1="328.50" y1="525.0" x2="328.50" y2="755.5" stroke="#f5f5f5" stroke-width="1"/><line x1="389.50" y1="525.0" x2="389.50" y2="755.5" stroke="#f5f5f5" stroke-width="1"/><line x1="450.50" y1="525.0" x2="450.50" y2="755.5" stroke="#f5f5f5" stroke-width="1"/><line x1="512.50" y1="525.0" x2="512.50" y2="755.5" stroke="#f5f5f5" stroke-width="1"/><line x1="308.5" y1="731.50" x2="566.5" y2="731.50" stroke="#f5f5f5" stroke-width="1"/><line x1="308.5" y1="687.50" x2="566.5" y2="687.50" stroke="#f5f5f5" stroke-width="1"/><line x1="308.5" y1="642.50" x2="566.5" y2="642.50" stroke="#f5f5f5" stroke-width="1"/><line x1="308.5" y1="597.50" x2="566.5" y2="597.50" stroke="#f5f5f5" stroke-width="1"/><line x1="308.5" y1="552.50" x2="566.5" y2="552.50" stroke="#f5f5f5" stroke-width="1"/><line x1="358.50" y1="525.0" x2="358.50" y2="755.5" stroke="#e3e3e3" stroke-width="1"/><line x1="420.50" y1="525.0" x2="420.50" y2="755.5" stroke="#e3e3e3" stroke-width="1"/><line x1="481.50" y1="525.0" x2="481.50" y2="755.5" stroke="#e3e3e3" stroke-width="1"/><line x1="542.50" y1="525.0" x2="542.50" y2="755.5" stroke="#e3e3e3" stroke-width="1"/><line x1="308.5" y1="754.50" x2="566.5" y2="754.50" stroke="#e3e3e3" stroke-width="1"/><line x1="308.5" y1="709.50" x2="566.5" y2="709.50" stroke="#e3e3e3" stroke-width="1"/><line x1="308.5" y1="664.50" x2="566.5" y2="664.50" stroke="#e3e3e3" stroke-width="1"/><line x1="308.5" y1="619.50" x2="566.5" y2="619.50" stroke="#e3e3e3" stroke-width="1"/><line x1="308.5" y1="574.50" x2="566.5" y2="574.50" stroke="#e3e3e3" stroke-width="1"/><line x1="308.5" y1="529.50" x2="566.5" y2="529.50" stroke="#e3e3e3" stroke-width="1"/></g>
<g clip-path="url(#c21)">
<polygon points="322.0,659.3 334.3,660.4 346.5,661.6 358.8,653.8 371.1,660.8 383.3,669.4 395.6,671.0 407.9,678.2 420.1,682.2 432.4,677.5 444.6,673.4 456.9,676.1 469.2,674.5 481.4,673.4 493.7,673.4 506.0,672.9 518.2,669.9 530.5,663.9 542.7,663.3 555.0,658.2 555.0,745.5 542.7,708.8 530.5,708.3 518.2,699.2 506.0,696.2 493.7,693.9 481.4,695.0 469.2,696.2 456.9,696.2 444.6,695.0 432.4,696.2 420.1,698.5 407.9,695.0 395.6,690.9 383.3,689.3 371.1,684.0 358.8,677.8 346.5,685.4 334.3,685.9 322.0,685.9" fill="#999999" fill-opacity="0.25"/>
<circle cx="328.2" cy="599.5" r="2.75" fill="#F564E3"/>
<circle cx="346.5" cy="612.1" r="2.75" fill="#F564E3"/>
<circle cx="346.5" cy="634.1" r="2.75" fill="#F564E3"/>
<circle cx="319.5" cy="641.9" r="2.75" fill="#F564E3"/>
<circle cx="352.7" cy="642.4" r="2.75" fill="#F564E3"/>
<circle cx="358.9" cy="646.7" r="2.75" fill="#F564E3"/>
<circle cx="377.2" cy="637.5" r="2.75" fill="#F564E3"/>
<circle cx="352.7" cy="655.0" r="2.75" fill="#F564E3"/>
<circle cx="358.9" cy="663.2" r="2.75" fill="#F564E3"/>
<circle cx="395.4" cy="666.9" r="2.75" fill="#F564E3"/>
<circle cx="328.2" cy="677.2" r="2.75" fill="#F564E3"/>
<circle cx="334.4" cy="677.9" r="2.75" fill="#F564E3"/>
<circle cx="340.6" cy="679.3" r="2.75" fill="#F564E3"/>
<circle cx="340.6" cy="683.2" r="2.75" fill="#F564E3"/>
<circle cx="346.5" cy="681.6" r="2.75" fill="#F564E3"/>
<circle cx="358.9" cy="679.7" r="2.75" fill="#F564E3"/>
<circle cx="358.9" cy="683.6" r="2.75" fill="#F564E3"/>
<circle cx="371.1" cy="683.6" r="2.75" fill="#F564E3"/>
<circle cx="377.2" cy="675.6" r="2.75" fill="#F564E3"/>
<circle cx="377.2" cy="679.0" r="2.75" fill="#F564E3"/>
<circle cx="389.4" cy="685.9" r="2.75" fill="#F564E3"/>
<circle cx="407.5" cy="690.7" r="2.75" fill="#F564E3"/>
<circle cx="419.9" cy="690.5" r="2.75" fill="#F564E3"/>
<circle cx="419.9" cy="693.5" r="2.75" fill="#F564E3"/>
<circle cx="438.5" cy="675.8" r="2.75" fill="#F564E3"/>
<circle cx="340.6" cy="693.5" r="2.75" fill="#F564E3"/>
<circle cx="334.4" cy="700.3" r="2.75" fill="#F564E3"/>
<circle cx="340.6" cy="702.4" r="2.75" fill="#F564E3"/>
<circle cx="346.5" cy="703.5" r="2.75" fill="#F564E3"/>
<circle cx="334.4" cy="709.9" r="2.75" fill="#F564E3"/>
<circle cx="413.9" cy="712.0" r="2.75" fill="#F564E3"/>
<circle cx="432.3" cy="706.7" r="2.75" fill="#F564E3"/>
<circle cx="334.4" cy="727.1" r="2.75" fill="#F564E3"/>
<circle cx="530.1" cy="642.4" r="2.75" fill="#F564E3"/>
<circle cx="505.8" cy="654.1" r="2.75" fill="#F564E3"/>
<circle cx="481.5" cy="656.2" r="2.75" fill="#F564E3"/>
<circle cx="469.1" cy="661.9" r="2.75" fill="#F564E3"/>
<circle cx="444.6" cy="679.6" r="2.75" fill="#F564E3"/>
<circle cx="444.6" cy="684.4" r="2.75" fill="#F564E3"/>
<circle cx="462.9" cy="675.7" r="2.75" fill="#F564E3"/>
<circle cx="505.8" cy="676.1" r="2.75" fill="#F564E3"/>
<circle cx="524.1" cy="672.7" r="2.75" fill="#F564E3"/>
<circle cx="554.9" cy="679.6" r="2.75" fill="#F564E3"/>
<circle cx="493.6" cy="688.3" r="2.75" fill="#F564E3"/>
<circle cx="481.5" cy="692.2" r="2.75" fill="#F564E3"/>
<circle cx="499.6" cy="695.6" r="2.75" fill="#F564E3"/>
<circle cx="512.0" cy="694.7" r="2.75" fill="#F564E3"/>
<circle cx="512.0" cy="696.8" r="2.75" fill="#F564E3"/>
<circle cx="493.6" cy="698.6" r="2.75" fill="#F564E3"/>
<circle cx="493.6" cy="701.6" r="2.75" fill="#F564E3"/>
<circle cx="536.5" cy="695.2" r="2.75" fill="#F564E3"/>
<circle cx="450.8" cy="702.7" r="2.75" fill="#F564E3"/>
<circle cx="469.1" cy="705.5" r="2.75" fill="#F564E3"/>
<circle cx="524.1" cy="702.0" r="2.75" fill="#F564E3"/>
<circle cx="554.9" cy="724.4" r="2.75" fill="#F564E3"/>
<polyline points="322.0,673.0 334.3,673.3 346.5,674.2 358.8,664.7 371.1,670.8 383.3,679.4 395.6,682.0 407.9,687.2 420.1,690.3 432.4,687.0 444.6,684.4 456.9,686.2 469.2,686.2 481.4,685.3 493.7,683.5 506.0,684.8 518.2,685.3 530.5,686.0 542.7,686.4 555.0,701.7" fill="none" stroke="#F564E3" stroke-width="2" stroke-linejoin="round"/>
</g>
<rect x="307.5" y="507.5" width="259" height="17.50" fill="#cccccc"/>
<path d="M308.5,525.0V755.5 M566.5,525.0V755.5" stroke="#606060" stroke-width="1" fill="none"/>
<path d="M308.1,507.5V525.0 M566.5,507.5V525.0" stroke="#7a7a7a" stroke-width="1.2" fill="none"/>
<path d="M308.0,507.5H567.0" stroke="#808080" stroke-width="1" fill="none"/>
<path d="M308.0,525.0H567.0" stroke="#5e5e5e" stroke-width="1.4" fill="none"/>
<path d="M308.0,755.5H567.0" stroke="#9a9a9a" stroke-width="1.6" fill="none"/>
<text x="437.50" y="520.90" font-family="Liberation Sans" font-weight="bold" font-size="12.5" text-anchor="middle" fill="#000">ED20</text>
<line x1="358.80" y1="755.5" x2="358.80" y2="761.50" stroke="#111" stroke-width="1.6"/>
<text x="358.80" y="773.6" font-family="Liberation Sans" font-weight="bold" font-size="12" text-anchor="middle" fill="#000">10</text>
<line x1="420.12" y1="755.5" x2="420.12" y2="761.50" stroke="#111" stroke-width="1.6"/>
<text x="420.12" y="773.6" font-family="Liberation Sans" font-weight="bold" font-size="12" text-anchor="middle" fill="#000">15</text>
<line x1="481.43" y1="755.5" x2="481.43" y2="761.50" stroke="#111" stroke-width="1.6"/>
<text x="481.43" y="773.6" font-family="Liberation Sans" font-weight="bold" font-size="12" text-anchor="middle" fill="#000">20</text>
<line x1="542.75" y1="755.5" x2="542.75" y2="761.50" stroke="#111" stroke-width="1.6"/>
<text x="542.75" y="773.6" font-family="Liberation Sans" font-weight="bold" font-size="12" text-anchor="middle" fill="#000">25</text>
<text x="305.8" y="787.5" font-family="Liberation Sans" font-size="14.7" text-anchor="middle" fill="#000" stroke="#000" stroke-width="0.35">Shell Length</text>
<text transform="translate(10.6,386.9) rotate(-90)" x="0" y="0" font-family="Liberation Sans" font-size="14.5" text-anchor="middle" fill="#000" stroke="#000" stroke-width="0.45">−ΔCt</text>
</svg></body></html>
